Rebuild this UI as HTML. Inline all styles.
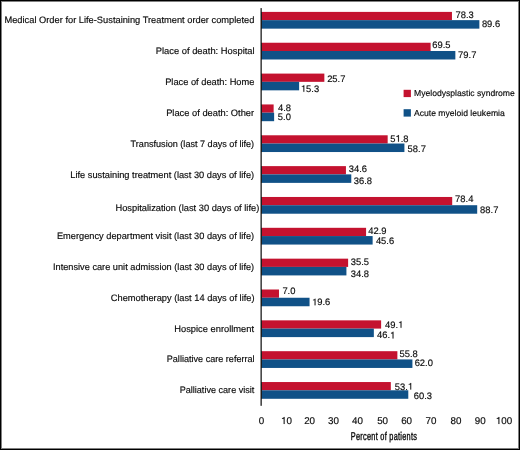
<!DOCTYPE html>
<html><head><meta charset="utf-8"><style>
html,body{margin:0;padding:0;background:#fff;}
body{width:520px;height:450px;overflow:hidden;position:relative;}
svg{position:absolute;left:0;top:0;will-change:transform;}
text{font-family:"Liberation Sans",sans-serif;fill:#0a0a0a;stroke:#0a0a0a;stroke-width:0.16px;text-rendering:geometricPrecision;}
.cat{font-size:9.3px;}
.val{font-size:9.4px;}
.tick{font-size:9.8px;}
.leg{font-size:8.6px;}
.axt{font-size:11.4px;stroke-width:0.4px;}
.one{fill:#0a0a0a;stroke:#0a0a0a;stroke-width:0.017;}
.frame{position:absolute;left:0;top:0;width:520px;height:450px;box-sizing:border-box;border:1px solid #000;}
.frame2{position:absolute;left:1px;top:1px;width:518px;height:448px;box-sizing:border-box;border:1px solid #808080;}
</style></head><body>
<svg width="520" height="450" viewBox="0 0 520 450">
<rect x="261" y="11.90" width="190.96" height="8.25" fill="#c4122f"/>
<rect x="261" y="20.15" width="218.37" height="8.5" fill="#105187"/>
<text class="cat" x="4.46" y="23.05" textLength="249.94" lengthAdjust="spacingAndGlyphs">Medical Order for Life-Sustaining Treatment order completed</text>
<text class="val" x="455.52" y="17.80">78.3</text>
<text class="val" x="481.90" y="27.35">89.6</text>
<rect x="261" y="42.74" width="169.61" height="8.25" fill="#c4122f"/>
<rect x="261" y="50.99" width="194.35" height="8.5" fill="#105187"/>
<text class="cat" x="155.75" y="53.60" textLength="98.86" lengthAdjust="spacingAndGlyphs">Place of death: Hospital</text>
<text class="val" x="432.33" y="48.20">69.5</text>
<text class="val" x="458.12" y="58.20">79.7</text>
<rect x="261" y="73.59" width="63.35" height="8.25" fill="#c4122f"/>
<rect x="261" y="81.84" width="38.12" height="8.5" fill="#105187"/>
<text class="cat" x="165.16" y="84.80" textLength="89.26" lengthAdjust="spacingAndGlyphs">Place of death: Home</text>
<text class="val" x="327.13" y="81.70">25.7</text>
<text class="val" x="300.89" y="91.80"> 5.3</text>
<path class="one" transform="translate(300.89,91.80) scale(9.4)" d="M0.359 0L0.359 -0.703L0.29 -0.703C0.27 -0.63 0.215 -0.6 0.101 -0.592L0.101 -0.532L0.271 -0.532L0.271 0Z"/>
<rect x="261" y="104.44" width="12.64" height="8.25" fill="#c4122f"/>
<rect x="261" y="112.69" width="13.13" height="8.5" fill="#105187"/>
<text class="cat" x="166.16" y="115.80" textLength="87.99" lengthAdjust="spacingAndGlyphs">Place of death: Other</text>
<text class="val" x="277.99" y="111.35">4.8</text>
<text class="val" x="277.82" y="119.70">5.0</text>
<rect x="261" y="135.28" width="126.67" height="8.25" fill="#c4122f"/>
<rect x="261" y="143.53" width="143.41" height="8.5" fill="#105187"/>
<text class="cat" x="130.62" y="147.00" textLength="123.53" lengthAdjust="spacingAndGlyphs">Transfusion (last 7 days of life)</text>
<text class="val" x="390.22" y="141.65">5 .8</text>
<path class="one" transform="translate(395.45,141.65) scale(9.4)" d="M0.359 0L0.359 -0.703L0.29 -0.703C0.27 -0.63 0.215 -0.6 0.101 -0.592L0.101 -0.532L0.271 -0.532L0.271 0Z"/>
<text class="val" x="407.62" y="151.55">58.7</text>
<rect x="261" y="166.12" width="84.94" height="8.25" fill="#c4122f"/>
<rect x="261" y="174.38" width="90.28" height="8.5" fill="#105187"/>
<text class="cat" x="70.26" y="177.60" textLength="183.91" lengthAdjust="spacingAndGlyphs">Life sustaining treatment (last 30 days of life)</text>
<text class="val" x="348.74" y="171.75">34.6</text>
<text class="val" x="353.74" y="183.65">36.8</text>
<rect x="261" y="196.97" width="191.20" height="8.25" fill="#c4122f"/>
<rect x="261" y="205.22" width="216.19" height="8.5" fill="#105187"/>
<text class="cat" x="115.46" y="211.40" textLength="143.80" lengthAdjust="spacingAndGlyphs">Hospitalization (last 30 days of life)</text>
<text class="val" x="455.12" y="202.10">78.4</text>
<text class="val" x="480.10" y="213.10">88.7</text>
<rect x="261" y="227.81" width="105.08" height="8.25" fill="#c4122f"/>
<rect x="261" y="236.06" width="111.63" height="8.5" fill="#105187"/>
<text class="cat" x="56.96" y="238.90" textLength="197.20" lengthAdjust="spacingAndGlyphs">Emergency department visit (last 30 days of life)</text>
<text class="val" x="368.29" y="233.75">42.9</text>
<text class="val" x="375.89" y="244.05">45.6</text>
<rect x="261" y="258.66" width="87.12" height="8.25" fill="#c4122f"/>
<rect x="261" y="266.91" width="85.42" height="8.5" fill="#105187"/>
<text class="cat" x="52.97" y="269.70" textLength="201.18" lengthAdjust="spacingAndGlyphs">Intensive care unit admission (last 30 days of life)</text>
<text class="val" x="350.84" y="264.95">35.5</text>
<text class="val" x="350.84" y="276.55">34.8</text>
<rect x="261" y="289.50" width="17.98" height="8.25" fill="#c4122f"/>
<rect x="261" y="297.75" width="48.55" height="8.5" fill="#105187"/>
<text class="cat" x="110.84" y="301.40" textLength="143.72" lengthAdjust="spacingAndGlyphs">Chemotherapy (last 14 days of life)</text>
<text class="val" x="282.42" y="293.75">7.0</text>
<text class="val" x="312.09" y="305.35"> 9.6</text>
<path class="one" transform="translate(312.09,305.35) scale(9.4)" d="M0.359 0L0.359 -0.703L0.29 -0.703C0.27 -0.63 0.215 -0.6 0.101 -0.592L0.101 -0.532L0.271 -0.532L0.271 0Z"/>
<rect x="261" y="320.35" width="120.12" height="8.25" fill="#c4122f"/>
<rect x="261" y="328.60" width="112.84" height="8.5" fill="#105187"/>
<text class="cat" x="174.25" y="332.30" textLength="79.79" lengthAdjust="spacingAndGlyphs">Hospice enrollment</text>
<text class="val" x="384.99" y="327.75">49. </text>
<path class="one" transform="translate(398.06,327.75) scale(9.4)" d="M0.359 0L0.359 -0.703L0.29 -0.703C0.27 -0.63 0.215 -0.6 0.101 -0.592L0.101 -0.532L0.271 -0.532L0.271 0Z"/>
<text class="val" x="376.99" y="338.40">46. </text>
<path class="one" transform="translate(390.06,338.40) scale(9.4)" d="M0.359 0L0.359 -0.703L0.29 -0.703C0.27 -0.63 0.215 -0.6 0.101 -0.592L0.101 -0.532L0.271 -0.532L0.271 0Z"/>
<rect x="261" y="351.19" width="136.37" height="8.25" fill="#c4122f"/>
<rect x="261" y="359.44" width="151.41" height="8.5" fill="#105187"/>
<text class="cat" x="166.77" y="361.60" textLength="87.82" lengthAdjust="spacingAndGlyphs">Palliative care referral</text>
<text class="val" x="399.52" y="356.80">55.8</text>
<text class="val" x="414.63" y="366.15">62.0</text>
<rect x="261" y="382.04" width="129.82" height="8.25" fill="#c4122f"/>
<rect x="261" y="390.29" width="147.29" height="8.5" fill="#105187"/>
<text class="cat" x="179.67" y="393.00" textLength="74.68" lengthAdjust="spacingAndGlyphs">Palliative care visit</text>
<text class="val" x="394.72" y="389.55">53. </text>
<path class="one" transform="translate(407.79,389.55) scale(9.4)" d="M0.359 0L0.359 -0.703L0.29 -0.703C0.27 -0.63 0.215 -0.6 0.101 -0.592L0.101 -0.532L0.271 -0.532L0.271 0Z"/>
<text class="val" x="413.73" y="398.90">60.3</text>
<rect x="260" y="8.1" width="1" height="397.7" fill="#8c8c8c"/><rect x="261" y="8.1" width="1" height="397.7" fill="#4a4a4a"/>
<rect x="261" y="11.90" width="1" height="16.75" fill="#1c1c1c"/>
<rect x="261" y="42.74" width="1" height="16.75" fill="#1c1c1c"/>
<rect x="261" y="73.59" width="1" height="16.75" fill="#1c1c1c"/>
<rect x="261" y="104.44" width="1" height="16.75" fill="#1c1c1c"/>
<rect x="261" y="135.28" width="1" height="16.75" fill="#1c1c1c"/>
<rect x="261" y="166.12" width="1" height="16.75" fill="#1c1c1c"/>
<rect x="261" y="196.97" width="1" height="16.75" fill="#1c1c1c"/>
<rect x="261" y="227.81" width="1" height="16.75" fill="#1c1c1c"/>
<rect x="261" y="258.66" width="1" height="16.75" fill="#1c1c1c"/>
<rect x="261" y="289.50" width="1" height="16.75" fill="#1c1c1c"/>
<rect x="261" y="320.35" width="1" height="16.75" fill="#1c1c1c"/>
<rect x="261" y="351.19" width="1" height="16.75" fill="#1c1c1c"/>
<rect x="261" y="382.04" width="1" height="16.75" fill="#1c1c1c"/>
<text class="tick" x="258.67" y="423.90">0</text>
<text class="tick" x="281.05" y="423.90"> 0</text>
<path class="one" transform="translate(281.05,423.90) scale(9.8)" d="M0.359 0L0.359 -0.703L0.29 -0.703C0.27 -0.63 0.215 -0.6 0.101 -0.592L0.101 -0.532L0.271 -0.532L0.271 0Z"/>
<text class="tick" x="304.15" y="423.90">20</text>
<text class="tick" x="327.95" y="423.90">30</text>
<text class="tick" x="352.05" y="423.90">40</text>
<text class="tick" x="377.15" y="423.90">50</text>
<text class="tick" x="401.15" y="423.90">60</text>
<text class="tick" x="425.45" y="423.90">70</text>
<text class="tick" x="450.55" y="423.90">80</text>
<text class="tick" x="474.85" y="423.90">90</text>
<text class="tick" x="495.82" y="423.90"> 00</text>
<path class="one" transform="translate(495.82,423.90) scale(9.8)" d="M0.359 0L0.359 -0.703L0.29 -0.703C0.27 -0.63 0.215 -0.6 0.101 -0.592L0.101 -0.532L0.271 -0.532L0.271 0Z"/>
<text class="axt" x="0" y="0" transform="translate(350.8,440.2) scale(0.645,1)" letter-spacing="0.42">Percent of patients</text>
<rect x="403.6" y="89.8" width="7.3" height="7.3" fill="#c4122f"/>
<rect x="403.6" y="109.2" width="7.3" height="7.4" fill="#105187"/>
<text class="leg" x="414.0" y="96.3">Myelodysplastic syndrome</text>
<text class="leg" x="414.0" y="115.9">Acute myeloid leukemia</text>
</svg>
<div class="frame"></div><div class="frame2"></div>
</body></html>
